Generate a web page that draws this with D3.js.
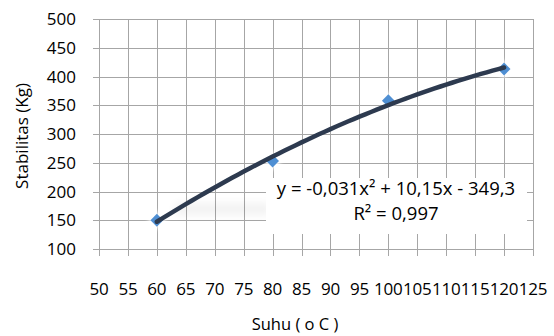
<!DOCTYPE html>
<html>
<head>
<meta charset="utf-8">
<script src="https://cdn.jsdelivr.net/npm/d3@7"></script>
<style>
  body { margin: 0; background: #fff; }
  text { font-family: "Open Sans", sans-serif; fill: #000; }
</style>
</head>
<body>
<div id="chart"></div>
<script>
// data
var suhu = [60, 80, 100, 120];
var stabilitas = [150, 253, 358, 413];
var xTicks = [50, 55, 60, 65, 70, 75, 80, 85, 90, 95, 100, 105, 110, 115, 120, 125];
var yTicks = [100, 150, 200, 250, 300, 350, 400, 450, 500];
var eqLines = ["y = -0,031x\u00b2 + 10,15x - 349,3", "R\u00b2 = 0,997"];

var width = 554, height = 336;
var pLeft = 99, pRight = 533, pTop = 19, pBottom = 249;

var svg = d3.select("#chart").append("svg")
    .attr("width", width).attr("height", height);

var defs = svg.append("defs");
defs.append("filter").attr("id", "glow")
    .attr("x", "-1").attr("y", "-1").attr("width", "3").attr("height", "3")
    .append("feGaussianBlur").attr("stdDeviation", 2);
defs.append("filter").attr("id", "soft")
    .attr("x", "-0.5").attr("y", "-1").attr("width", "2").attr("height", "3")
    .append("feGaussianBlur").attr("stdDeviation", 4);

var x = d3.scaleLinear().domain([50, 125]).range([pLeft, pRight]);
var y = d3.scaleLinear().domain([100, 500]).range([pBottom, pTop]);

// grid
var grid = svg.append("g");
grid.selectAll("line.vx").data(xTicks).enter().append("line")
    .attr("x1", function(d){ return Math.round(x(d)) + 0.5; }).attr("x2", function(d){ return Math.round(x(d)) + 0.5; })
    .attr("y1", pTop).attr("y2", pBottom + 7)
    .attr("stroke", "#a6a6a6").attr("stroke-width", 1);
grid.selectAll("line.hy").data(yTicks).enter().append("line")
    .attr("x1", pLeft - 6).attr("x2", pRight)
    .attr("y1", function(d){ return Math.round(y(d)) + 0.5; }).attr("y2", function(d){ return Math.round(y(d)) + 0.5; })
    .attr("stroke", "#a6a6a6").attr("stroke-width", 1);

// tick labels
svg.append("g").selectAll("text").data(yTicks).enter().append("text")
    .attr("x", 76).attr("y", function(d){ return y(d) + 6; })
    .attr("text-anchor", "end").attr("font-size", "17px")
    .text(function(d){ return d; });

svg.append("g").selectAll("text").data(xTicks).enter().append("text")
    .attr("x", function(d){ return x(d); }).attr("y", 295)
    .attr("text-anchor", "middle").attr("font-size", "17px")
    .attr("letter-spacing", "-0.2px")
    .text(function(d){ return d; });

// axis titles
svg.append("text")
    .attr("transform", "translate(28,136) rotate(-90)")
    .attr("text-anchor", "middle").attr("font-size", "17px")
    .text("Stabilitas (Kg)");
svg.append("text")
    .attr("x", 295).attr("y", 330)
    .attr("text-anchor", "middle").attr("font-size", "16.5px")
    .text("Suhu ( o C )");

// polynomial trendline (order 2) fitted to the points by least squares
function fit2(xs, ys) {
  var n = xs.length, m = d3.mean(xs);
  var t = xs.map(function(v){ return v - m; });
  var s2 = d3.sum(t, function(v){ return v*v; });
  var s3 = d3.sum(t, function(v){ return v*v*v; });
  var s4 = d3.sum(t, function(v){ return v*v*v*v; });
  var sy = d3.sum(ys), sty = d3.sum(t, function(v, i){ return v*ys[i]; });
  var st2y = d3.sum(t, function(v, i){ return v*v*ys[i]; });
  // solve 3x3 normal equations
  var A = [[n, 0, s2], [0, s2, s3], [s2, s3, s4]], B = [sy, sty, st2y];
  for (var i = 0; i < 3; i++) {
    for (var k = i + 1; k < 3; k++) {
      var f = A[k][i] / A[i][i];
      for (var j = i; j < 3; j++) A[k][j] -= f * A[i][j];
      B[k] -= f * B[i];
    }
  }
  var c = [0, 0, 0];
  for (var i = 2; i >= 0; i--) {
    var s = B[i];
    for (var j = i + 1; j < 3; j++) s -= A[i][j] * c[j];
    c[i] = s / A[i][i];
  }
  return function(v){ var d = v - m; return c[0] + c[1]*d + c[2]*d*d; };
}
var trend = fit2(suhu, stabilitas);
var tx = d3.range(60, 120.01, 1);

// faint shadow left of the label
svg.append("rect")
    .attr("x", 175).attr("y", 203).attr("width", 95).attr("height", 12)
    .attr("fill", "#000").attr("opacity", 0.05).attr("filter", "url(#soft)");

// marker glow
svg.append("g").selectAll("path").data(suhu).enter().append("path")
    .attr("d", d3.symbol().type(d3.symbolSquare).size(170))
    .attr("transform", function(d, i){ return "translate(" + x(d) + "," + y(stabilitas[i]) + ") rotate(45)"; })
    .attr("fill", "#fff").attr("filter", "url(#glow)");

// markers
svg.append("g").selectAll("path").data(suhu).enter().append("path")
    .attr("d", d3.symbol().type(d3.symbolSquare).size(82))
    .attr("transform", function(d, i){ return "translate(" + x(d) + "," + y(stabilitas[i]) + ") rotate(45)"; })
    .attr("fill", "#4f8fd3");

// trendline
svg.append("path")
    .datum(tx)
    .attr("d", d3.line().x(function(d){ return x(d); }).y(function(d){ return y(trend(d)); }))
    .attr("fill", "none").attr("stroke", "#2d3a4f").attr("stroke-width", 4.5)
    .attr("stroke-linecap", "round");

// equation label
svg.append("rect")
    .attr("x", 266).attr("y", 178).attr("width", 261).attr("height", 56)
    .attr("fill", "#fff");
svg.append("g").selectAll("text").data(eqLines).enter().append("text")
    .attr("x", 396).attr("y", function(d, i){ return 195 + i * 25; })
    .attr("text-anchor", "middle").attr("font-size", "18.5px")
    .text(function(d){ return d; });

// right border
svg.append("line").attr("x1", pRight + 0.5).attr("x2", pRight + 0.5).attr("y1", pTop).attr("y2", pBottom + 7)
    .attr("stroke", "#a6a6a6");
</script>
</body>
</html>
